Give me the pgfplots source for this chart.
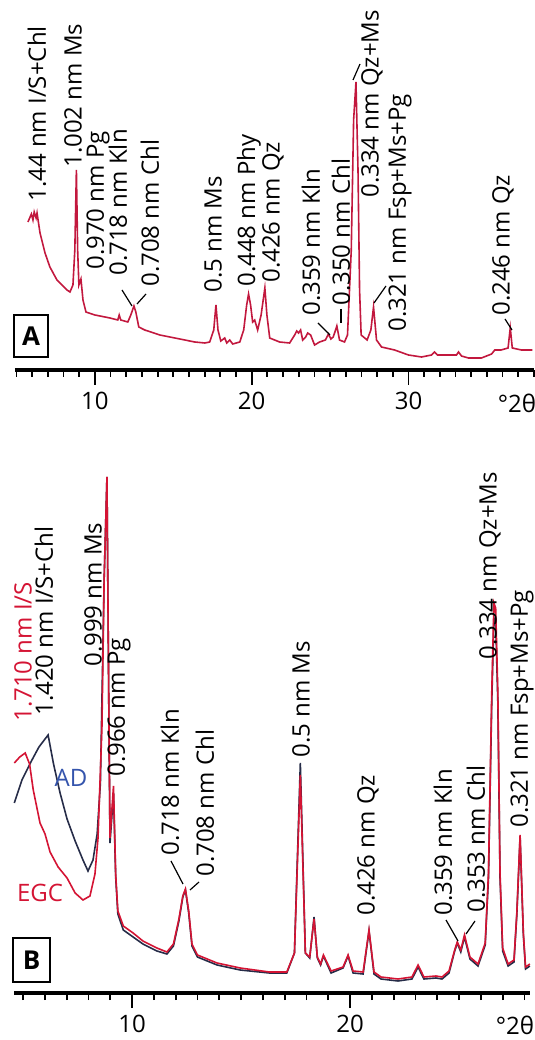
\documentclass[border=0pt]{standalone}
\usepackage{fontspec}
\setmainfont{Open Sans}
\setsansfont{Open Sans}
\usepackage{pgfplots}
\pgfplotsset{compat=1.18}
\definecolor{redA}{RGB}{194,24,62}
\definecolor{redB}{RGB}{212,20,52}
\definecolor{adline}{RGB}{38,44,72}
\definecolor{adblue}{RGB}{52,84,172}
\pgfplotsset{xrdaxis/.style={
  scale only axis,
  axis x line=bottom, axis y line=none, ytick=\empty,
  x axis line style={-, line width=1.75pt},
  ymin=0,
  tick align=outside,
  major tick length=7.5pt, minor tick length=3.5pt,
  every tick/.style={black, line width=0.9pt},
  xticklabel style={font=\fontsize{12}{14}\selectfont, /pgf/number format/assume math mode=true},
  clip=false,
}}
\begin{document}
\begin{tikzpicture}
\useasboundingbox (0,0) rectangle (267.5pt,520pt);
% Panel A
\begin{axis}[xrdaxis, width=259.5pt, height=185pt, xmin=4.9, xmax=38, ymax=370,
  at={(7.465pt,335pt)}, anchor=south west,
  xtick={10,20,30}, minor xtick={5,...,38}]
\addplot[redA, line width=0.8pt] table {
5.73 148
5.95 156
6.05 150
6.13 158
6.25 152
6.31 157
6.50 137
6.82 117
7.13 103
7.58 90
7.90 85
8.22 80
8.41 78
8.60 85
8.72 120
8.82 200
8.90 120
8.98 85
9.11 91
9.24 70
9.43 58
10.0 55
10.96 52
11.46 50
11.55 55
11.65 50
12.10 48
12.29 55
12.40 60
12.49 64
12.61 58
12.80 43
13.18 40
14.14 35
15.10 32
16.37 28
17.01 27
17.32 28
17.58 40
17.72 65
17.85 40
18.03 29
18.28 32
18.41 27
18.60 30
18.79 26
19.24 28
19.49 40
19.68 65
19.80 76
19.93 65
20.06 48
20.19 50
20.38 40
20.60 55
20.84 82
20.97 55
21.15 32
21.46 30
21.78 28
22.42 27
22.74 35
22.87 39
22.99 37
23.12 40
23.25 30
23.44 33
23.57 37
23.76 35
24.01 25
24.33 28
24.70 30
24.90 36
25.05 31
25.20 33
25.35 40
25.43 44
25.60 30
25.92 28
26.11 35
26.35 120
26.50 250
26.65 288
26.78 200
26.88 80
26.98 35
27.36 30
27.60 40
27.77 63
27.96 30
28.28 23
29.11 20
30.0 15
30.83 13
31.47 15
31.66 18
31.85 15
32.10 15
33.06 15
33.19 18
33.38 14
33.82 12
34.65 12
35.3 16
35.5 20
35.9 20
36.35 22
36.49 42
36.62 22
37.2 20
37.9 20
};
\end{axis}
% Panel B
\begin{axis}[xrdaxis, width=257.8pt, height=261.5pt, xmin=4.6, xmax=28.25, ymax=523,
  at={(7.15pt,23.5pt)}, anchor=south west,
  xtick={10,20}, minor xtick={5,...,28}]
\addplot[adline, line width=0.8pt] table {
4.6 190
4.95 213
5.41 233
5.73 246
6.15 258
6.4 229
6.7 200
7.02 174
7.39 152
7.75 133
7.98 122
8.21 133
8.4 159
8.55 210
8.72 413
8.85 516
8.93 300
8.99 150
9.15 200
9.25 116
9.35 79
9.6 63
10.05 56
10.5 49
11.14 42
11.6 39
11.9 47
12.15 72
12.33 96
12.45 103
12.6 80
12.75 47
13.0 36
13.9 28
14.96 23
16.3 20
17.1 20
17.45 40
17.72 230
17.95 40
18.15 35
18.35 76
18.5 35
18.65 28
18.78 37
19.13 20
19.68 25
19.91 37
20.14 20
20.6 19
20.87 62
21.1 19
21.42 14
22.2 12
22.84 14
23.12 26
23.39 14
23.94 15
24.22 14
24.54 20
24.8 42
24.92 50
25.08 41
25.25 56
25.5 34
25.87 27
26.2 48
26.35 115
26.5 290
26.6 375
26.68 372
26.78 290
26.88 115
27.0 42
27.25 27
27.52 31
27.65 78
27.8 156
27.95 58
28.05 24
28.25 27
};
\addplot[redB, line width=0.8pt] table {
4.6 230
4.85 236
5.1 240
5.3 229
5.47 203
5.78 170
6.01 159
6.24 141
6.61 126
7.02 115
7.39 100
7.75 93
8.07 97
8.30 119
8.44 155
8.62 266
8.72 413
8.85 516
8.93 300
8.99 155
9.15 207
9.25 119
9.35 82
9.6 67
10.05 60
10.5 52
11.14 45
11.6 41
11.9 49
12.15 74
12.33 97
12.45 104
12.6 82
12.75 49
13.0 38
13.9 30
14.96 25
16.3 21
17.1 21
17.45 40
17.72 218
17.95 40
18.15 36
18.35 74
18.5 36
18.65 29
18.78 38
19.13 22
19.68 26
19.91 38
20.14 22
20.6 21
20.87 63
21.1 21
21.42 16
22.2 14
22.84 16
23.12 28
23.39 16
23.94 17
24.22 16
24.54 22
24.8 43
24.92 51
25.08 43
25.25 58
25.5 36
25.87 29
26.2 50
26.35 120
26.5 300
26.6 390
26.68 385
26.78 300
26.88 120
27.0 45
27.25 29
27.52 33
27.65 80
27.8 158
27.95 60
28.05 26
28.25 29
};
\end{axis}
% annotations in pixel coordinates
\begin{scope}[x=0.5pt,y=-0.5pt,yshift=520pt,
  lab/.style={rotate=90,anchor=west,inner sep=0pt,font=\fontsize{12}{14}\selectfont},
  ld/.style={line width=0.6pt}]
% Panel A
\node[lab] at (37,202) {1.44 nm I/S+Chl};
\node[lab] at (73,168) {1.002 nm Ms};
\node[lab] at (98,270) {0.970 nm Pg};
\node[lab] at (118,276) {0.718 nm Kln};
\draw[ld] (122,290) -- (132,306);
\node[lab] at (150,287) {0.708 nm Chl};
\draw[ld] (146,294) -- (137,304);
\node[lab] at (213,293) {0.5 nm Ms};
\node[lab] at (249,287) {0.448 nm Phy};
\node[lab] at (273,283) {0.426 nm Qz};
\node[lab] at (311,316) {0.359 nm Kln};
\draw[ld] (318,323) -- (330,335);
\node[lab] at (341,306) {0.350 nm Chl};
\draw[ld] (341,309) -- (341,323);
\node[lab] at (372,198) {0.334 nm Qz+Ms};
\draw[ld] (353,80) -- (360,64);
\node[lab] at (400,332) {0.321 nm Fsp+Ms+Pg};
\draw[ld] (374,303) -- (386,286);
\node[lab] at (503,316) {0.246 nm Qz};
\draw[ld] (505,319) -- (512,330);
\draw[line width=1.25pt] (14,315) rectangle (48,357);
\node[font=\fontsize{13}{15}\selectfont\bfseries] at (31,336) {A};
\node[font=\fontsize{12}{14}\selectfont,inner sep=0pt] at (517,403) {°2θ};
% Panel B
\node[lab,text=redB] at (23,722) {1.710 nm I/S};
\node[lab] at (44,716) {1.420 nm I/S+Chl};
\node[font=\fontsize{12}{14}\selectfont,text=adblue,inner sep=0pt] at (71,778) {AD};
\node[lab] at (93,667) {0.999 nm Ms};
\node[lab] at (119,777) {0.966 nm Pg};
\node[font=\fontsize{12}{14}\selectfont,text=redB,inner sep=0pt] at (40,893) {EGC};
\node[lab] at (170,856) {0.718 nm Kln};
\draw[ld] (171,861) -- (183,884);
\node[lab] at (205,877) {0.708 nm Chl};
\draw[ld] (199,882) -- (190,890);
\node[lab] at (301,758) {0.5 nm Ms};
\node[lab] at (368,916) {0.426 nm Qz};
\node[lab] at (443,916) {0.359 nm Kln};
\draw[ld] (446,920) -- (458,941);
\node[lab] at (476,913) {0.353 nm Chl};
\draw[ld] (475,921) -- (466,934);
\node[lab] at (490,660) {0.334 nm Qz+Ms};
\node[lab] at (522,828) {0.321 nm Fsp+Ms+Pg};
\draw[line width=1.25pt] (13,938) rectangle (50,982);
\node[font=\fontsize{13}{15}\selectfont\bfseries] at (31.5,960) {B};
\node[font=\fontsize{12}{14}\selectfont,inner sep=0pt] at (515,1025) {°2θ};
\end{scope}
\end{tikzpicture}
\end{document}
